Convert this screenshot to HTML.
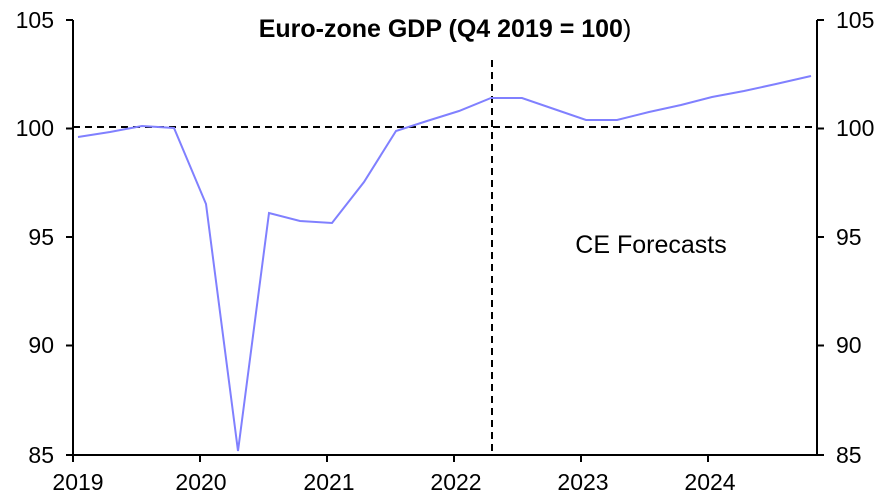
<!DOCTYPE html>
<html><head><style>
body{margin:0;background:#fff}
svg text{font-family:"Liberation Sans",Arial,sans-serif;fill:#000}
</style></head><body>
<svg width="891" height="498" xmlns="http://www.w3.org/2000/svg">
<rect width="891" height="498" fill="#fff"/>
<text x="445" y="37" font-size="25" font-weight="bold" text-anchor="middle">Euro-zone GDP (Q4 2019 = 100<tspan font-weight="normal">)</tspan></text>
<g stroke="#000" stroke-width="2" fill="none">
<line x1="73" y1="20" x2="73" y2="455"/>
<line x1="817" y1="20" x2="817" y2="455"/>
<line x1="73" y1="455" x2="817" y2="455"/>
<line x1="66" y1="20" x2="73" y2="20"/><line x1="66" y1="128.5" x2="73" y2="128.5"/><line x1="66" y1="237" x2="73" y2="237"/><line x1="66" y1="345.5" x2="73" y2="345.5"/><line x1="66" y1="455" x2="73" y2="455"/>
<line x1="817" y1="20" x2="824" y2="20"/><line x1="817" y1="128.5" x2="824" y2="128.5"/><line x1="817" y1="237" x2="824" y2="237"/><line x1="817" y1="345.5" x2="824" y2="345.5"/><line x1="817" y1="455" x2="824" y2="455"/>
<line x1="73" y1="455" x2="73" y2="462"/><line x1="200" y1="455" x2="200" y2="462"/><line x1="327" y1="455" x2="327" y2="462"/><line x1="454" y1="455" x2="454" y2="462"/><line x1="581" y1="455" x2="581" y2="462"/><line x1="708" y1="455" x2="708" y2="462"/>
</g>
<g font-size="23" text-anchor="end">
<text x="54" y="28">105</text><text x="54" y="136">100</text><text x="54" y="245">95</text><text x="54" y="353">90</text><text x="54" y="463">85</text>
</g>
<g font-size="23" text-anchor="start">
<text x="836" y="28">105</text><text x="836" y="136">100</text><text x="836" y="245">95</text><text x="836" y="353">90</text><text x="836" y="463">85</text>
</g>
<g font-size="23" text-anchor="middle">
<text x="78" y="490">2019</text><text x="201" y="490">2020</text><text x="329" y="490">2021</text><text x="456" y="490">2022</text><text x="583" y="490">2023</text><text x="710" y="490">2024</text>
</g>
<line x1="73" y1="127" x2="817" y2="127" stroke="#000" stroke-width="2" stroke-dasharray="7,5"/>
<line x1="492" y1="60" x2="492" y2="455" stroke="#000" stroke-width="2" stroke-dasharray="7,5"/>
<text x="651" y="253" font-size="25" text-anchor="middle">CE Forecasts</text>
<polyline fill="none" stroke="#8080ff" stroke-width="2" points="78,137 110,132 142,126 174,128 206,204 238,451 269,213 300,221 332,223 364,182 396,131 427,121 459,111 491,98 522,98 554,109 586,120 617,120 649,112 681,105 712,97 744,91 776,84 811,76"/>
</svg>
</body></html>
